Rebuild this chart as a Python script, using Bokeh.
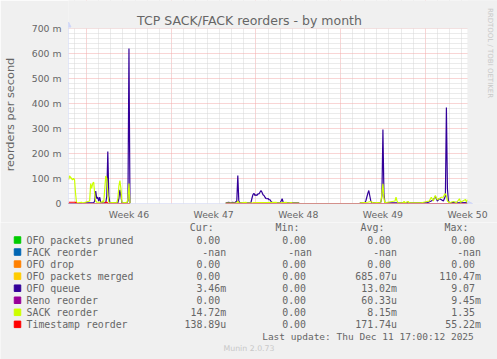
import math
from bokeh.plotting import figure
from bokeh.models import Range1d, FixedTicker, Label, Arrow, NormalHead, BoxAnnotation
from bokeh.layouts import column
from bokeh.embed import file_html
from bokeh.resources import INLINE
from bokeh.core.properties import value

NAN = float("nan")

# ---------------- data (x = 2-hour slot since start of the 33-day window, y = milli-reorders/s)
week_start_slots = [18, 102, 186, 270, 354]
week_label_slots = [60, 144, 228, 312, 396]
week_labels = ["Week 46", "Week 47", "Week 48", "Week 49", "Week 50"]
y_ticks = [0, 100, 200, 300, 400, 500, 600, 700]
y_tick_labels = ["0", "100 m", "200 m", "300 m", "400 m", "500 m", "600 m", "700 m"]

names = ["OFO packets pruned", "FACK reorder", "OFO drop", "OFO packets merged",
         "OFO queue", "Reno reorder", "SACK reorder", "Timestamp reorder"]
colors = ["#00CC00", "#0066B3", "#FF8000", "#FFCC00", "#330099", "#990099", "#CCFF00", "#FF0000"]
cur_vals = ["0.00", "-nan", "0.00", "0.00", "3.46m", "0.00", "14.72m", "138.89u"]
min_vals = ["0.00", "-nan", "0.00", "0.00", "0.00", "0.00", "0.00", "0.00"]
avg_vals = ["0.00", "-nan", "0.00", "685.07u", "13.02m", "60.33u", "8.15m", "171.74u"]
max_vals = ["0.00", "-nan", "0.00", "110.47m", "9.07", "9.45m", "1.35", "55.22m"]
last_update = "Last update: Thu Dec 11 17:00:12 2025"

pruned_slot = [0, 61, NAN, 156, 396]
pruned_val = [0, 0, NAN, 0, 0]
fack_slot = []
fack_val = []
drop_slot = [0, 61, NAN, 156, 396]
drop_val = [0, 0, NAN, 0, 0]
merged_slot = [0, 61, NAN, 156, 183, 184, 206, 207, 396]
merged_val = [0, 0, NAN, 0, 0, 3, 3, 0, 0]
queue_slot = [0, 15, 16, 25, 26, 27, 28, 29, 30, 31, 32, 33, 37, 38, 39, 40, 41, 49, 50, 51, 52, 53,
              58, 59, 60, 61, NAN,
              156, 159, 161, 163, 165, 167, 168, 169, 170, 181, 182, 183, 184, 185, 186, 187, 188, 189,
              190, 191, 192, 193, 194, 195, 196, 197, 198, 199, 200, 201, 202, 203, 210, 211, 212, 213,
              214, 228, 229, 289, 290, 294, 295, 296, 297, 298, 299, 300, 301, 310, 311, 312, 313, 314,
              350, 356, 360, 362, 364, 366, 368, 370, 372, 374, 375, 376, 377, 378, 385, 386, 396]
queue_val = [0, 0, 3, 3, 10, 50, 20, 25, 10, 25, 5, 3, 3, 30, 208, 30, 3, 3, 20, 55, 30, 3,
             3, 10, 620, 0, NAN,
             3, 5, 3, 5, 3, 10, 112, 10, 3, 3, 20, 35, 41, 32, 35, 32, 39, 38,
             45, 52, 45, 35, 32, 25, 20, 19, 20, 15, 15, 8, 5, 3, 3, 10, 19, 5,
             3, 3, 0, 0, 3, 3, 10, 25, 40, 52, 30, 10, 3, 5, 30, 296, 40, 3,
             3, 3, 10, 15, 28, 10, 20, 15, 10, 30, 384, 60, 10, 3, 5, 3, 3.5]
reno_slot = [0, 61, NAN, 156, 396]
reno_val = [0, 0, NAN, 0, 0]
sack_slot = [0, 1, 2, 3, 4, 5, 6, 7, 8, 13, 14, 21, 22, 23, 24, 25, 26, 27, 28, 33, 34, 35, 36, 37, 38,
             39, 40, 48, 49, 50, 51, 52, 53, 58, 59, 60, 61, NAN,
             156, 167, 168, 169, 176, 177, 206, 207, 216, 217, 221, 222, 228, 229, 289, 290, 297, 300,
             302, 310, 311, 312, 313, 314, 324, 325, 326, 327, 332, 333, 334, 337, 338, 350, 358, 360,
             362, 364, 366, 368, 370, 372, 373, 374, 375, 376, 378, 382, 385, 388, 389, 394, 395, 396]
sack_val = [95, 110, 105, 100, 95, 100, 95, 40, 2, 5, 2, 10, 80, 60, 80, 85, 40, 10, 5, 5, 10, 5, 60, 110, 100,
            40, 5, 3, 20, 70, 92, 60, 5, 3, 20, 80, 0, NAN,
            2, 2, 10, 2, 5, 2, 5, 2, 5, 2, 4, 2, 2, 0, 0, 3, 5, 8,
            3, 5, 40, 79, 20, 3, 10, 25, 10, 3, 3, 8, 3, 8, 3, 3, 10, 25,
            10, 32, 15, 20, 25, 25, 35, 39, 30, 10, 3, 8, 3, 19, 5, 16, 5, 15]
ts_slot = [0, 7, 8, 36, 37, 38, 39, 61, NAN, 156, 396]
ts_val = [5, 5, 0, 0, 5, 5, 0, 0, NAN, 0, 0]

series = [(pruned_slot, pruned_val), (fack_slot, fack_val), (drop_slot, drop_val),
          (merged_slot, merged_val), (queue_slot, queue_val), (reno_slot, reno_val),
          (sack_slot, sack_val), (ts_slot, ts_val)]

FONT = "DejaVu Sans"
MONO = "DejaVu Sans Mono"
TXT = "#666666"
AXIS = "#CFD6F8"
BG = "#F0F0F0"

# ---------------- main chart
# The frame reaches the top and right edges of the page so that the title, the
# watermark and the axis arrows (all outside the data canvas) can be drawn in it.
W, H1 = 497, 222
FL, FB = 67, 203              # data canvas: x 67..467, y 28..203 on the page
X_END, Y_END = 396, 700
x_per_px = X_END / 400.0
y_per_px = Y_END / 175.0
p = figure(width=W, height=H1,
           x_range=Range1d(0, X_END + (W - 467) * x_per_px),
           y_range=Range1d(0, Y_END + 28 * y_per_px),
           output_backend="svg", toolbar_location=None,
           min_border_left=FL, min_border_right=0, min_border_top=0, min_border_bottom=H1 - FB,
           background_fill_color=BG, border_fill_color=BG, outline_line_color=None)

# white data canvas
p.add_layout(BoxAnnotation(left=0, right=X_END, bottom=0, top=Y_END, fill_color="#FFFFFF",
                           fill_alpha=1.0, line_color=None, level="image"))

day_slots = [s for s in range(6, 396, 12) if s not in week_start_slots]
p.xgrid.ticker = FixedTicker(ticks=week_start_slots, minor_ticks=day_slots)
p.ygrid.ticker = FixedTicker(ticks=y_ticks, minor_ticks=[v for v in range(20, 700, 20) if v % 100])
for g in (p.xgrid, p.ygrid):
    g.grid_line_color = "#F2AAAA"
    g.grid_line_dash = "1 1"
    g.minor_grid_line_color = "#D6D6D6"
    g.minor_grid_line_dash = "1 1"
    g.level = "underlay"

# grid lines stop at the edge of the data canvas (covers drawn above the grid level)
p.add_layout(BoxAnnotation(bottom=Y_END, fill_color=BG, fill_alpha=1.0, line_color=None,
                           level="glyph"))
p.add_layout(BoxAnnotation(left=X_END, fill_color=BG, fill_alpha=1.0, line_color=None,
                           level="glyph"))

p.xaxis.ticker = FixedTicker(ticks=week_label_slots)
p.xaxis.major_label_overrides = dict(zip(week_label_slots, week_labels))
p.yaxis.ticker = FixedTicker(ticks=y_ticks)
p.yaxis.major_label_overrides = dict(zip(y_ticks, y_tick_labels))
for ax in (p.xaxis, p.yaxis):
    ax.axis_line_color = None
    ax.major_tick_line_color = None
    ax.minor_tick_line_color = None
    ax.major_tick_out = 0
    ax.major_tick_in = 0
    ax.major_label_text_color = TXT
    ax.major_label_text_font = FONT
    ax.major_label_text_font_size = "9.3px"
p.xaxis.major_label_standoff = 5
p.yaxis.major_label_standoff = 7
# trailing no-break spaces centre the label on the data canvas rather than the taller frame
p.yaxis.axis_label = "reorders per second" + "\u00a0" * 7
p.yaxis.axis_label_standoff = 12
p.yaxis.axis_label_text_font = FONT
p.yaxis.axis_label_text_font_size = "11.3px"
p.yaxis.axis_label_text_font_style = "normal"
p.yaxis.axis_label_text_color = TXT

for (xs, ys), c in zip(series, colors):
    if xs:
        p.line(xs, ys, line_color=c, line_width=1.2)

# axis lines with arrow heads (rrdtool style)
p.add_layout(Arrow(end=NormalHead(size=5, fill_color=AXIS, line_color=AXIS),
                   x_start=0, y_start=0, x_end=0, y_end=Y_END + 6.5 * y_per_px,
                   line_color=AXIS, line_width=1))
p.add_layout(Arrow(end=NormalHead(size=5, fill_color=AXIS, line_color=AXIS),
                   x_start=0, y_start=0, x_end=X_END + 5 * x_per_px, y_end=0,
                   line_color=AXIS, line_width=1))

def page_label(px, py, text, size, color=TXT, angle=0.0):
    p.add_layout(Label(x=px - FL, y=FB - py, x_units="screen", y_units="screen", text=text,
                       text_align="center", text_baseline="middle", angle=angle,
                       text_font=FONT, text_font_size=size, text_color=color))

page_label(248, 19.5, "TCP SACK/FACK reorders - by month", "12.5px")
page_label(488, 52.5, "RRDTOOL / TOBI OETIKER", "7px", color="#C8C8C8", angle=-math.pi / 2)

# ---------------- legend / stats block (pixel coordinates of the page)
H2 = 359 - H1
q = figure(width=W, height=H2, x_range=Range1d(0, W), y_range=Range1d(359, H1),
           output_backend="svg", toolbar_location=None, min_border=0,
           background_fill_color=BG, border_fill_color=BG, outline_line_color=None)
q.axis.visible = False
q.grid.visible = False

# keep the two figures from aligning their frames
for fig in (p, q):
    if "frame_align" in fig.properties():
        fig.frame_align = False

row_y = [239.5 + 12.05 * i for i in range(len(names))]
q.scatter(x=[17] * len(names), y=row_y, marker="square", size=6.5, fill_color=colors, line_color=colors)
q.text(x=[26] * len(names), y=row_y, text=names, text_font=value(MONO), text_font_size="9.9px",
       text_color=TXT, text_baseline="middle", text_align="left")

col_edges = [219.7, 305.5, 390.5, 474.5]
headers = ["Cur:", "Min:", "Avg:", "Max:"]
q.text(x=[e - 6.6 for e in col_edges], y=[227] * 4, text=headers, text_font=value(MONO),
       text_font_size="9.9px", text_color=TXT, text_baseline="middle", text_align="right")

def split(v):
    if v and v[-1] in "munkMG":
        return v[:-1], v[-1]
    return v, ""

for edge, col in zip(col_edges, [cur_vals, min_vals, avg_vals, max_vals]):
    nums = [split(v)[0] for v in col]
    units = [split(v)[1] for v in col]
    q.text(x=[edge] * len(col), y=row_y, text=nums, text_font=value(MONO), text_font_size="9.9px",
           text_color=TXT, text_baseline="middle", text_align="right")
    q.text(x=[edge] * len(col), y=row_y, text=units, text_font=value(MONO), text_font_size="9.9px",
           text_color=TXT, text_baseline="middle", text_align="left")

q.text(x=[473.3], y=[336.3], text=[last_update], text_font=value(MONO), text_font_size="9.5px",
       text_color=TXT, text_baseline="middle", text_align="right")
q.text(x=[248.5], y=[347.8], text=["Munin 2.0.73"], text_font=value(FONT), text_font_size="7.8px",
       text_color="#C8C8C8", text_baseline="middle", text_align="center")

layout = column(p, q, spacing=0)
open("out.html", "w").write(file_html(layout, INLINE))
